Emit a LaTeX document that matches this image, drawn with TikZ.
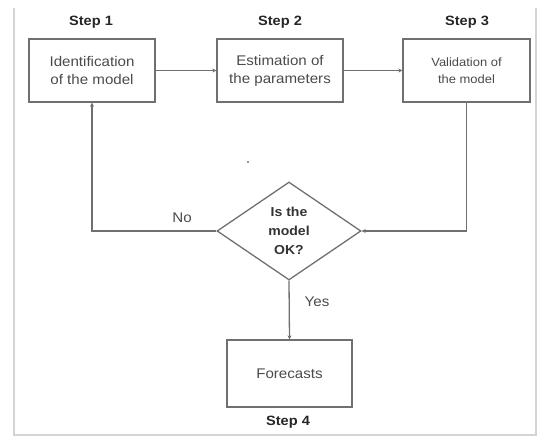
\documentclass[tikz,border=0pt]{standalone}
\usepackage{fontspec}
\setmainfont{Liberation Sans}
\newfontfamily\boxfont[FakeStretch=1.08]{Liberation Sans}
\usetikzlibrary{shapes.geometric,arrows.meta}
\definecolor{linegray}{HTML}{707070}
\definecolor{textgray}{HTML}{4A4A4A}
\definecolor{framegray}{HTML}{D4D4D4}
\tikzset{
  stepbox/.style={draw=linegray, line width=1.3pt, rectangle, align=center,
    inner sep=0pt, text=textgray, font=\boxfont\fontsize{14}{18}\selectfont},
  decision/.style={draw=linegray, line width=1.3pt, diamond, align=center,
    inner sep=0pt, minimum width=144pt, minimum height=98pt, text=black!80,
    font=\boxfont\bfseries\fontsize{13}{19}\selectfont},
  steplabel/.style={font=\boxfont\bfseries\fontsize{13.5}{16}\selectfont, text=black!85},
  edgelabel/.style={font=\boxfont\fontsize{14}{16}\selectfont, text=textgray},
  flow/.style={draw=linegray, line width=1.3pt, -{Stealth[length=4pt,width=4pt]}}
}
\begin{document}
\begin{tikzpicture}[x=1pt,y=-1pt]
  \useasboundingbox (0,0) rectangle (539,437);
  % open frame around the chart
  \draw[framegray, line width=1.5pt] (14,8) -- (14,435) -- (536,435) -- (536,8);

  % process boxes
  \node[stepbox, minimum width=126pt, minimum height=63pt] (ident) at (92,70.5)
    {Identification\\of the model};
  \node[stepbox, minimum width=126pt, minimum height=63pt] (estim) at (280,70.5)
    {Estimation of\\the parameters};
  \node[stepbox, minimum width=127pt, minimum height=63pt,
        font=\boxfont\fontsize{12}{17}\selectfont] (valid) at (466.5,70.5)
    {Validation of\\the model};
  \node[decision] (check) at (289,231) {Is the\\model\\OK?};
  \node[stepbox, minimum width=125pt, minimum height=67pt] (fcast) at (289.5,373.5)
    {Forecasts};

  % step captions
  \node[steplabel] (s1) at (91,22) {Step 1};
  \node[steplabel] (s2) at (280,22) {Step 2};
  \node[steplabel] (s3) at (467,22) {Step 3};
  \node[steplabel] (s4) at (288,422) {Step 4};

  % connectors
  \draw[flow] (ident.east) -- (estim.west);
  \draw[flow] (estim.east) -- (valid.west);
  \draw[flow] (valid.south) |- (check.east);
  \draw[flow] (check.west) -| (ident.south);
  \draw[flow] (check.south) -- (fcast.north);
  \node[edgelabel] (no) at (182,218) {No};
  \node[edgelabel] (yes) at (317,302) {Yes};

  % small stray mark
  \fill[linegray] (248,162) circle (1.1pt);
\end{tikzpicture}
\end{document}
